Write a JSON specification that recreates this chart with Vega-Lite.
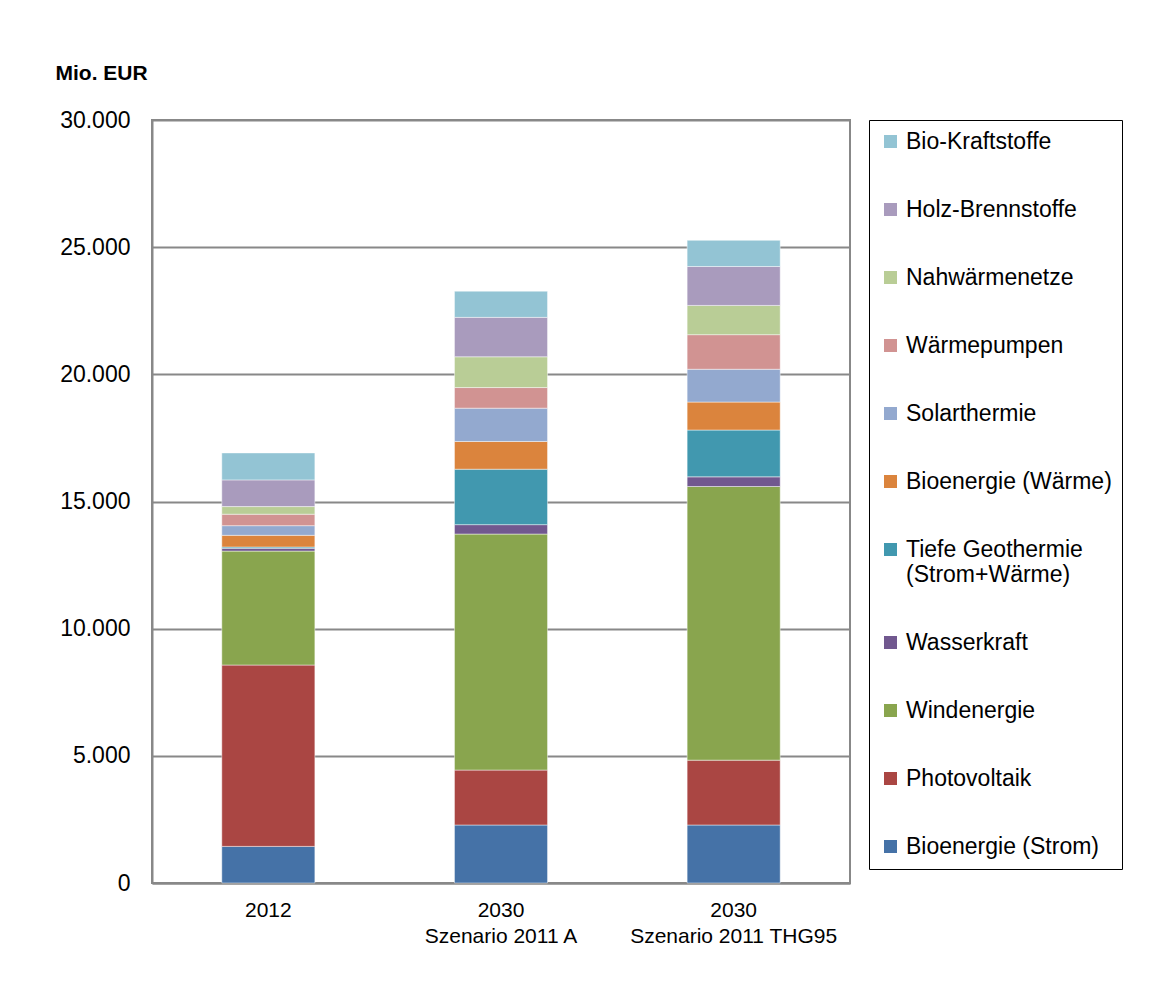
{
  "$schema": "https://vega.github.io/schema/vega-lite/v6.json",
  "width": 698,
  "height": 763,
  "autosize": {"type": "none"},
  "padding": {"left": 152, "top": 120, "right": 318, "bottom": 114},
  "background": "white",
  "config": {
    "font": "Liberation Sans",
    "view": {"stroke": "#888888", "strokeWidth": 2}
  },
  "data": {
    "values": [
      {"cat": "2012", "series": "Bioenergie (Strom)", "value": 1440, "rank": 1},
      {"cat": "2012", "series": "Photovoltaik", "value": 7130, "rank": 2},
      {"cat": "2012", "series": "Windenergie", "value": 4480, "rank": 3},
      {"cat": "2012", "series": "Wasserkraft", "value": 110, "rank": 4},
      {"cat": "2012", "series": "Tiefe Geothermie (Strom+Wärme)", "value": 50, "rank": 5},
      {"cat": "2012", "series": "Bioenergie (Wärme)", "value": 460, "rank": 6},
      {"cat": "2012", "series": "Solarthermie", "value": 380, "rank": 7},
      {"cat": "2012", "series": "Wärmepumpen", "value": 450, "rank": 8},
      {"cat": "2012", "series": "Nahwärmenetze", "value": 300, "rank": 9},
      {"cat": "2012", "series": "Holz-Brennstoffe", "value": 1050, "rank": 10},
      {"cat": "2012", "series": "Bio-Kraftstoffe", "value": 1060, "rank": 11},
      {"cat": "2030 Szenario 2011 A", "series": "Bioenergie (Strom)", "value": 2280, "rank": 1},
      {"cat": "2030 Szenario 2011 A", "series": "Photovoltaik", "value": 2160, "rank": 2},
      {"cat": "2030 Szenario 2011 A", "series": "Windenergie", "value": 9280, "rank": 3},
      {"cat": "2030 Szenario 2011 A", "series": "Wasserkraft", "value": 370, "rank": 4},
      {"cat": "2030 Szenario 2011 A", "series": "Tiefe Geothermie (Strom+Wärme)", "value": 2180, "rank": 5},
      {"cat": "2030 Szenario 2011 A", "series": "Bioenergie (Wärme)", "value": 1090, "rank": 6},
      {"cat": "2030 Szenario 2011 A", "series": "Solarthermie", "value": 1310, "rank": 7},
      {"cat": "2030 Szenario 2011 A", "series": "Wärmepumpen", "value": 810, "rank": 8},
      {"cat": "2030 Szenario 2011 A", "series": "Nahwärmenetze", "value": 1210, "rank": 9},
      {"cat": "2030 Szenario 2011 A", "series": "Holz-Brennstoffe", "value": 1550, "rank": 10},
      {"cat": "2030 Szenario 2011 A", "series": "Bio-Kraftstoffe", "value": 1030, "rank": 11},
      {"cat": "2030 Szenario 2011 THG95", "series": "Bioenergie (Strom)", "value": 2280, "rank": 1},
      {"cat": "2030 Szenario 2011 THG95", "series": "Photovoltaik", "value": 2550, "rank": 2},
      {"cat": "2030 Szenario 2011 THG95", "series": "Windenergie", "value": 10760, "rank": 3},
      {"cat": "2030 Szenario 2011 THG95", "series": "Wasserkraft", "value": 380, "rank": 4},
      {"cat": "2030 Szenario 2011 THG95", "series": "Tiefe Geothermie (Strom+Wärme)", "value": 1840, "rank": 5},
      {"cat": "2030 Szenario 2011 THG95", "series": "Bioenergie (Wärme)", "value": 1100, "rank": 6},
      {"cat": "2030 Szenario 2011 THG95", "series": "Solarthermie", "value": 1290, "rank": 7},
      {"cat": "2030 Szenario 2011 THG95", "series": "Wärmepumpen", "value": 1360, "rank": 8},
      {"cat": "2030 Szenario 2011 THG95", "series": "Nahwärmenetze", "value": 1150, "rank": 9},
      {"cat": "2030 Szenario 2011 THG95", "series": "Holz-Brennstoffe", "value": 1530, "rank": 10},
      {"cat": "2030 Szenario 2011 THG95", "series": "Bio-Kraftstoffe", "value": 1030, "rank": 11}
    ]
  },
  "mark": {"type": "bar", "stroke": "#ffffff", "strokeOpacity": 0.45, "strokeWidth": 1},
  "encoding": {
    "x": {
      "field": "cat",
      "type": "nominal",
      "sort": ["2012", "2030 Szenario 2011 A", "2030 Szenario 2011 THG95"],
      "scale": {"paddingInner": 0.6, "paddingOuter": 0.3},
      "axis": {
        "title": null,
        "labelAngle": 0,
        "labelFontSize": 21,
        "labelColor": "#000000",
        "labelPadding": 16,
        "labelLineHeight": 26,
        "labelBaseline": "top",
        "labelLimit": 400,
        "labelOverlap": false,
        "ticks": false,
        "domainColor": "#888888",
        "domainWidth": 2,
        "labelExpr": "split(replace(datum.label, ' ', '|'), '|')"
      }
    },
    "y": {
      "field": "value",
      "type": "quantitative",
      "stack": "zero",
      "scale": {"domain": [0, 30000], "nice": false},
      "axis": {
        "values": [0, 5000, 10000, 15000, 20000, 25000, 30000],
        "labelExpr": "replace(format(datum.value, ','), ',', '.')",
        "title": "Mio. EUR",
        "titleAngle": 0,
        "titleAlign": "left",
        "titleBaseline": "alphabetic",
        "titleX": -97,
        "titleY": -41,
        "titleFontSize": 21,
        "titleFontWeight": "bold",
        "titleColor": "#000000",
        "labelFontSize": 23,
        "labelColor": "#000000",
        "labelPadding": 22,
        "ticks": false,
        "domainColor": "#888888",
        "domainWidth": 2,
        "gridColor": "#888888",
        "gridWidth": 2
      }
    },
    "order": {"field": "rank", "type": "quantitative"},
    "color": {
      "field": "series",
      "type": "nominal",
      "scale": {
        "domain": ["Bio-Kraftstoffe", "Holz-Brennstoffe", "Nahwärmenetze", "Wärmepumpen", "Solarthermie", "Bioenergie (Wärme)", "Tiefe Geothermie (Strom+Wärme)", "Wasserkraft", "Windenergie", "Photovoltaik", "Bioenergie (Strom)"],
        "range": ["#93C4D4", "#A99BBD", "#B9CD96", "#D19392", "#93A9CF", "#DB843D", "#4198AF", "#71588F", "#89A54E", "#AA4643", "#4572A7"]
      },
      "legend": {
        "title": null,
        "orient": "right",
        "offset": 19,
        "padding": 10,
        "rowPadding": 44,
        "strokeColor": "#000000",
        "fillColor": "#ffffff",
        "symbolType": "square",
        "symbolSize": 169,
        "symbolStrokeWidth": 0,
        "symbolOpacity": 1,
        "labelFontSize": 23,
        "labelColor": "#000000",
        "labelOffset": 4,
        "labelLimit": 400,
        "labelLineHeight": 25,
        "labelExpr": "split(replace(datum.label, ' (Strom+', '|(Strom+'), '|')",
        "encode": {"legend": {"update": {"strokeWidth": {"value": 2}}}}
      }
    }
  }
}
